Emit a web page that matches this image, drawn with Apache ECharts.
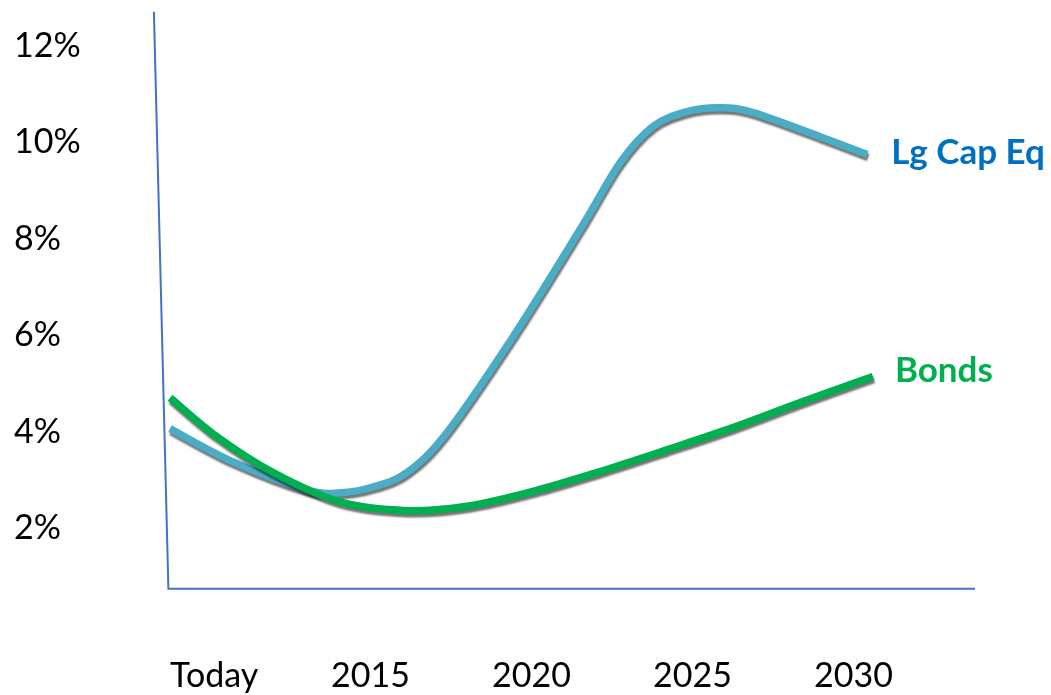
<!DOCTYPE html>
<html>
<head>
<meta charset="utf-8">
<script src="https://cdn.jsdelivr.net/npm/echarts@6/dist/echarts.min.js"></script>
<style>
  html, body { margin: 0; padding: 0; background: #ffffff; }
  #chart { width: 1051px; height: 695px; }
</style>
</head>
<body>
<div id="chart"></div>
<script>
// Expected return paths (% per year) for two asset classes, from today to the early 2030s
const xTickYears = [2010, 2015, 2020, 2025, 2030];
const xTickLabels = ['Today', '2015', '2020', '2025', '2030'];

const eqYears = [2010, 2011.96, 2014.25, 2015.28, 2016.3, 2017.36, 2018.59, 2020.66, 2022.73,
                 2023.98, 2025.0, 2026.06, 2027.08, 2028.11, 2030.19, 2031.65];
const eqValues = [4.07, 3.38, 2.8, 2.74, 2.86, 3.16, 3.98, 5.98, 8.19,
                  9.58, 10.33, 10.64, 10.72, 10.62, 10.12, 9.75];

const bondYears = [2010, 2011.46, 2013.2, 2015.28, 2017.36, 2019.22, 2021.27, 2023.35, 2025.43,
                   2027.48, 2029.57, 2031.83];
const bondValues = [4.71, 3.9, 3.16, 2.55, 2.37, 2.46, 2.77, 3.18, 3.63,
                    4.09, 4.61, 5.15];

const FONT = 'Lato, "Noto Sans", sans-serif';
const AXIS_BLUE = '#4472c4';

const chart = echarts.init(document.getElementById('chart'), null, { renderer: 'canvas' });

// Catmull-Rom spline through pixel points, written as cubic Bezier path data
function splinePath(pts) {
  let d = 'M' + pts[0][0] + ',' + pts[0][1];
  for (let i = 0; i < pts.length - 1; i++) {
    const p0 = pts[i - 1] || pts[i];
    const p1 = pts[i];
    const p2 = pts[i + 1];
    const p3 = pts[i + 2] || p2;
    const c1x = p1[0] + (p2[0] - p0[0]) / 6;
    const c1y = p1[1] + (p2[1] - p0[1]) / 6;
    const c2x = p2[0] - (p3[0] - p1[0]) / 6;
    const c2y = p2[1] - (p3[1] - p1[1]) / 6;
    d += ' C' + c1x + ',' + c1y + ' ' + c2x + ',' + c2y + ' ' + p2[0] + ',' + p2[1];
  }
  return d;
}

// One smooth curve series with its name written just past the last point
function curveSeries(name, years, values, lineColor, labelColor, labelGap, labelShiftY, z) {
  return {
    name: name,
    type: 'custom',
    coordinateSystem: 'cartesian2d',
    data: [[years[years.length - 1], values[values.length - 1]]],
    z: z,
    renderItem: (params, api) => {
      const pts = years.map((x, i) => api.coord([x, values[i]]));
      const end = pts[pts.length - 1];
      return {
        type: 'group',
        children: [
          {
            type: 'path',
            shape: { pathData: splinePath(pts) },
            style: {
              fill: 'none',
              stroke: lineColor,
              lineWidth: 7.5,
              lineCap: 'butt',
              shadowColor: 'rgba(0,0,0,0.55)',
              shadowBlur: 2,
              shadowOffsetX: 1,
              shadowOffsetY: 3
            }
          },
          {
            type: 'text',
            x: end[0] + labelGap,
            y: end[1] + labelShiftY,
            style: {
              text: name,
              fill: labelColor,
              fontFamily: FONT,
              fontWeight: 'bold',
              fontSize: 35,
              align: 'left',
              verticalAlign: 'middle'
            }
          }
        ]
      };
    }
  };
}

chart.setOption({
  animation: false,
  backgroundColor: '#ffffff',
  grid: { left: 170, right: 76, top: 46, bottom: 70, containLabel: false },
  xAxis: {
    type: 'value',
    min: 2010,
    max: 2035,
    interval: 5,
    axisLine: { show: false },
    axisTick: { show: false },
    splitLine: { show: false },
    axisLabel: {
      align: 'left',
      margin: 34,
      color: '#000000',
      fontFamily: FONT,
      fontSize: 34,
      showMaxLabel: true,
      formatter: v => {
        const i = xTickYears.indexOf(v);
        return i >= 0 ? xTickLabels[i] : '';
      }
    }
  },
  yAxis: {
    type: 'value',
    min: 0,
    max: 12,
    interval: 2,
    axisLine: { show: false },
    axisTick: { show: false },
    splitLine: { show: false },
    axisLabel: {
      align: 'left',
      margin: 156,
      color: '#000000',
      fontFamily: FONT,
      fontSize: 34,
      formatter: v => (v === 0 ? '' : v + '%')
    }
  },
  series: [
    curveSeries('Lg Cap Eq', eqYears, eqValues, '#4bacc6', '#0070c0', 24, -2, 2),
    curveSeries('Bonds', bondYears, bondValues, '#00b050', '#00b050', 22, -6, 3)
  ]
});

// Hand-drawn style frame: a slightly leaning vertical axis and a baseline above zero
const frameFloor = 0.75;      // value where the baseline sits
const frameTop = 12.71;       // value at the top of the vertical axis
const frameLeanYears = 0.45;  // horizontal lean of the vertical axis, in years
const p = (x, y) => chart.convertToPixel({ gridIndex: 0 }, [x, y]);
const bottomLeft = p(2009.95, frameFloor);
const topLeft = p(2009.95 - frameLeanYears, frameTop);
const bottomRight = p(2035, frameFloor);

chart.setOption({
  graphic: [
    {
      type: 'polyline',
      shape: { points: [topLeft, bottomLeft, bottomRight] },
      style: { stroke: AXIS_BLUE, lineWidth: 2, fill: null },
      z: 1
    }
  ]
});
</script>
</body>
</html>
